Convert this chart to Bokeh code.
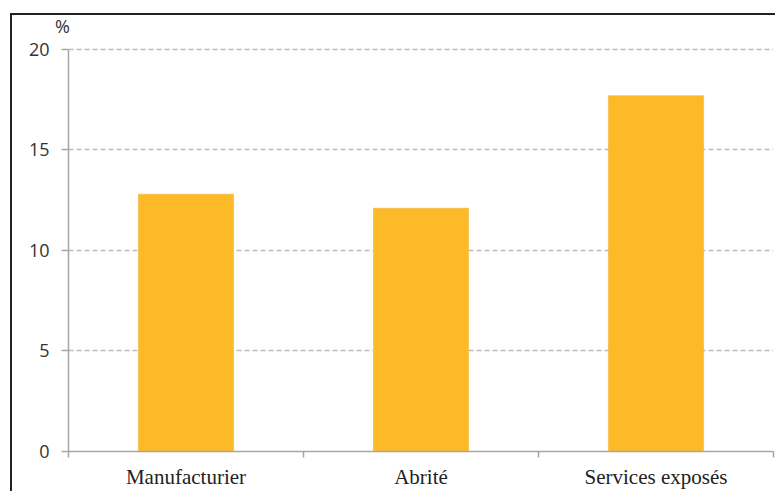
from bokeh.plotting import figure
from bokeh.models import FixedTicker, Range1d
from bokeh.embed import file_html
from bokeh.resources import INLINE

categories = ["Manufacturier", "Abrité", "Services exposés"]
values = [12.8, 12.1, 17.7]
y_ticks = [0, 5, 10, 15, 20]
unit_label = "%"

xs = [i + 0.5 for i in range(len(categories))]
bounds = list(range(len(categories) + 1))
y_max = y_ticks[-1]

p = figure(frame_width=705, frame_height=426, output_backend="svg",
           toolbar_location=None, x_range=Range1d(0, len(categories)),
           y_range=Range1d(0, 21.19))
p.min_border_left = 56
p.min_border_top = 10
p.min_border_bottom = 30
p.min_border_right = 2
p.margin = (13, 0, 0, 10)
p.styles = {"border-left": "2px solid #222", "border-top": "2px solid #222"}
p.outline_line_color = None
p.background_fill_color = "white"
p.border_fill_color = "white"

p.vbar(x=xs, top=values, width=0.405, fill_color="#FCBA28", line_color="#F0B030", line_width=0.5)

# grid
p.xgrid.grid_line_color = None
p.ygrid.ticker = FixedTicker(ticks=y_ticks[1:])
p.ygrid.grid_line_color = "#BDBDBD"
p.ygrid.grid_line_dash = "5 3"
p.ygrid.grid_line_width = 1.5

# y axis
p.yaxis.ticker = FixedTicker(ticks=y_ticks)
p.yaxis.bounds = (0, y_max)
p.yaxis.axis_line_color = "#A6A6A6"
p.yaxis.axis_line_width = 1.5
p.yaxis.major_tick_line_color = "#A6A6A6"
p.yaxis.major_tick_line_width = 1.5
p.yaxis.major_tick_in = 0
p.yaxis.major_tick_out = 7
p.yaxis.minor_tick_line_color = None
p.yaxis.major_label_text_font = "Open Sans"
p.yaxis.major_label_text_font_size = "18px"
p.yaxis.major_label_text_color = "#333333"
p.yaxis.major_label_standoff = 12

# "%" unit label as a horizontal axis label at the top of the y axis
p.yaxis.axis_label = unit_label
p.yaxis.axis_label_orientation = "horizontal"
p.yaxis.axis_label_align = "end"
p.yaxis.axis_label_standoff = -44
p.yaxis.axis_label_text_font = "Open Sans"
p.yaxis.axis_label_text_font_style = "normal"
p.yaxis.axis_label_text_font_size = "18px"
p.yaxis.axis_label_text_color = "#333333"

# x axis
p.xaxis.ticker = FixedTicker(ticks=xs, minor_ticks=bounds)
p.xaxis.major_label_overrides = {x: c for x, c in zip(xs, categories)}
p.xaxis.axis_line_color = "#A6A6A6"
p.xaxis.axis_line_width = 1.5
p.xaxis.major_tick_line_color = None
p.xaxis.minor_tick_line_color = "#A6A6A6"
p.xaxis.minor_tick_line_width = 1.5
p.xaxis.minor_tick_in = 0
p.xaxis.minor_tick_out = 6
p.xaxis.major_label_text_font = "Liberation Serif"
p.xaxis.major_label_text_font_size = "21px"
p.xaxis.major_label_text_color = "#222222"
p.xaxis.major_label_standoff = 7

open("out.html", "w").write(file_html(p, INLINE))
